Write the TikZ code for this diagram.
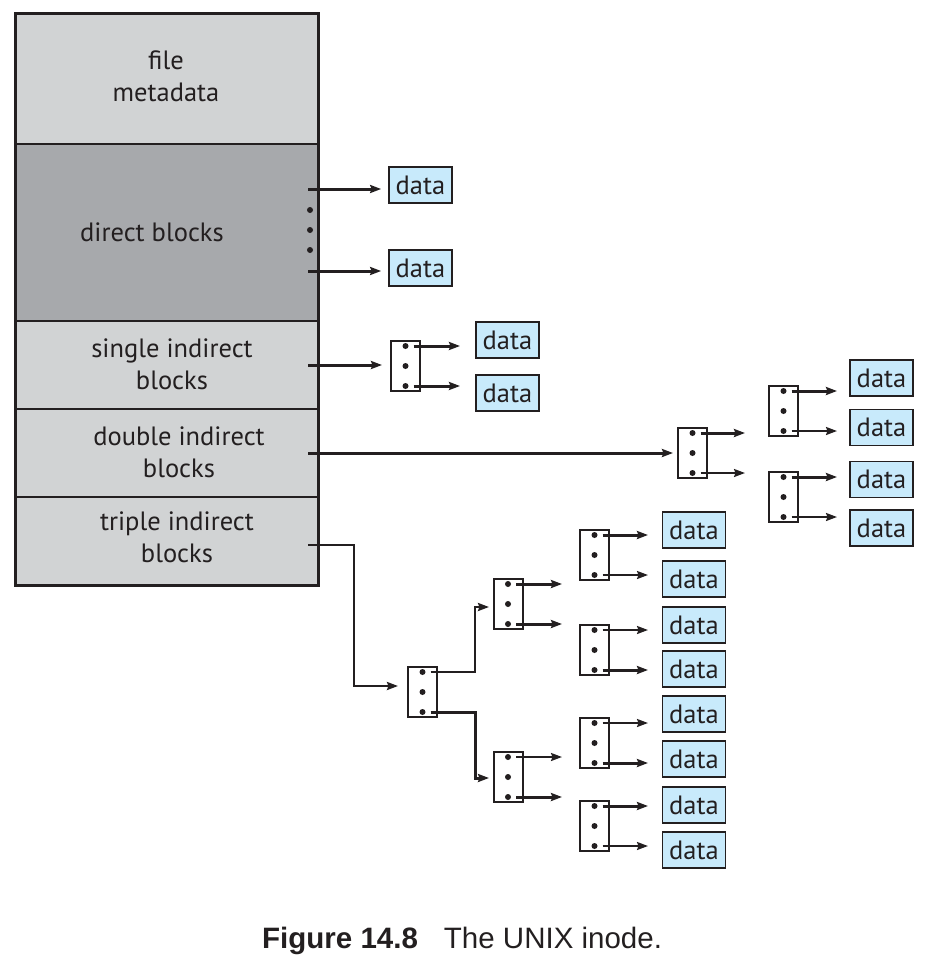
\documentclass[tikz,border=0pt]{standalone}
\usepackage{fontspec}
\setmainfont{PT Sans}
\newfontfamily\capfont{Liberation Sans}
\usetikzlibrary{arrows.meta}
\definecolor{ink}{HTML}{231F20}
\definecolor{lgray}{HTML}{D1D3D4}
\definecolor{dgray}{HTML}{A7A9AC}
\definecolor{datablue}{HTML}{C8EAFB}
\tikzset{
 sect/.style={draw=ink, line width=1.7pt, minimum width=303pt, inner sep=0pt, outer sep=0pt, anchor=north west},
 lbl/.style={font=\fontsize{26.5}{32}\selectfont, text=ink, align=center, inner sep=0pt},
 datab/.style={draw=ink, line width=1.7pt, fill=datablue, minimum width=63pt, minimum height=36pt, inner sep=0pt, font=\fontsize{26.5}{30}\selectfont, text=ink},
 ptrbox/.style={draw=ink, line width=2pt, fill=white, minimum width=29pt, minimum height=50pt, inner sep=0pt, outer sep=0pt},
 tip/.style={-{Stealth[length=11pt,width=8pt,inset=1.5pt]}},
 thk/.style={draw=ink, line width=3pt, tip},
 thn/.style={draw=ink, line width=1.9pt, tip},
}
\newcommand\ptrblk[3]{%
 \node[ptrbox] (#1) at (#2,#3) {};
 \path (#1.center) ++(0,-20) coordinate (#1-a);
 \path (#1.center) coordinate (#1-b);
 \path (#1.center) ++(0,20) coordinate (#1-c);
 \fill[ink] (#1-a) circle (3pt) (#1-b) circle (3pt) (#1-c) circle (3pt);
}
\newcommand\outarr[4]{%
 \draw[#2] ([xshift=8pt]#1-a) -- (#1-a -| #4);
 \draw[#3] ([xshift=8pt]#1-c) -- (#1-c -| #4);
}
\begin{document}
\begin{tikzpicture}[x=1pt,y=-1pt]
\useasboundingbox (0,0) rectangle (926,970);
% inode sections
\node[sect, fill=lgray, minimum height=131pt] (meta) at (15,13) {};
\node[sect, fill=dgray, minimum height=177pt] (direct) at (15,144) {};
\node[sect, fill=lgray, minimum height=88pt] (single) at (15,321) {};
\node[sect, fill=lgray, minimum height=88pt] (double) at (15,409) {};
\node[sect, fill=lgray, minimum height=88pt] (triple) at (15,497) {};
\draw[ink, line width=3pt] (meta.north west) rectangle (triple.south east);
\node[lbl] (tmeta) at (166,76) {file\\metadata};
\node[lbl] (tdirect) at (152,232) {direct blocks};
\node[lbl] (tsingle) at (172,364) {single indirect\\blocks};
\node[lbl] (tdouble) at (179,452) {double indirect\\blocks};
\node[lbl] (ttriple) at (177,537) {triple indirect\\blocks};
% direct
\coordinate (dA) at (308,189);
\coordinate (dB) at (308,271);
\node[datab] (data1) at (420.5,185) {data};
\node[datab] (data2) at (420.5,268) {data};
\draw[thk, shorten >=7pt] (dA) -- (dA -| data1.west);
\draw[thk, shorten >=7pt] (dB) -- (dB -| data2.west);
\fill[ink] (310,210) circle (3pt) (310,230) circle (3pt) (310,250) circle (3pt);
% single indirect
\coordinate (sA) at (308,365);
\ptrblk{s1}{405.5}{366}
\draw[thk, shorten >=9pt] (sA) -- (sA -| s1.west);
\coordinate (colS) at (460,0);
\outarr{s1}{thk}{thk}{colS}
\node[datab] (data3) at (507.5,340) {data};
\node[datab] (data4) at (507.5,393) {data};
% double indirect
\coordinate (dbA) at (308,453);
\ptrblk{d1}{692.5}{453}
\draw[thk, shorten >=5pt] (dbA) -- (d1.west);
\coordinate (colD1) at (745,0);
\outarr{d1}{thk}{thn}{colD1}
\ptrblk{d2}{783.5}{411}
\ptrblk{d3}{783.5}{497}
\coordinate (colD2) at (837,0);
\outarr{d2}{thk}{thn}{colD2}
\outarr{d3}{thk}{thn}{colD2}
\node[datab] (data5) at (881.5,378) {data};
\node[datab] (data6) at (881.5,427.5) {data};
\node[datab] (data7) at (881.5,479.5) {data};
\node[datab] (data8) at (881.5,528) {data};
% triple indirect
\coordinate (tA) at (308,545);
\coordinate (tB) at (354,686);
\ptrblk{t1}{422.5}{692}
\draw[draw=ink, line width=2.4pt, tip, shorten >=10pt] (tA) -| (tB) -- (tB -| t1.west);
\ptrblk{t2}{508}{604}
\ptrblk{t3}{508}{777}
\coordinate (jx) at (475,0);
\draw[draw=ink, line width=2.4pt, tip, shorten >=5pt] ([xshift=8pt]t1-a) -- (t1-a -| jx) -- (jx |- 0,607) -- (494,607);
\draw[draw=ink, line width=3pt, tip, shorten >=5pt] ([xshift=8pt]t1-c) -- (t1-c -| jx) -- (jx |- 0,778) -- (494,778);
\coordinate (colT1) at (562,0);
\outarr{t2}{thk}{thk}{colT1}
\outarr{t3}{thn}{thk}{colT1}
\ptrblk{u1}{594.5}{555}
\ptrblk{u2}{594.5}{650}
\ptrblk{u3}{594.5}{743}
\ptrblk{u4}{594.5}{826}
\coordinate (colT2) at (648,0);
\outarr{u1}{thk}{thn}{colT2}
\outarr{u2}{thn}{thk}{colT2}
\outarr{u3}{thn}{thk}{colT2}
\outarr{u4}{thk}{thn}{colT2}
\node[datab] (e1) at (694,530) {data};
\node[datab] (e2) at (694,579) {data};
\node[datab] (e3) at (694,625) {data};
\node[datab] (e4) at (694,669) {data};
\node[datab] (e5) at (694,714) {data};
\node[datab] (e6) at (694,759) {data};
\node[datab] (e7) at (694,805) {data};
\node[datab] (e8) at (694,850) {data};
% caption
\node[anchor=base west, inner sep=0pt, font=\capfont\fontsize{29.5}{34}\selectfont, text=ink] (cap) at (262,948) {\textbf{Figure 14.8}\hspace{26pt}The UNIX inode.};
\end{tikzpicture}
\end{document}
